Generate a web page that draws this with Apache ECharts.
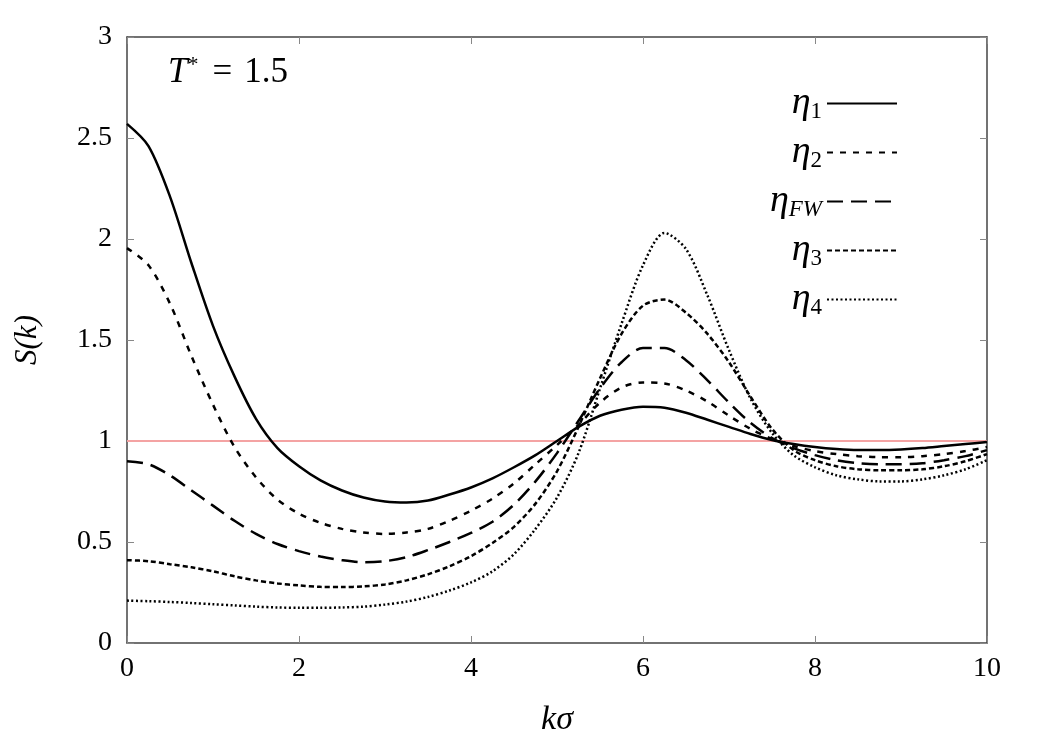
<!DOCTYPE html>
<html>
<head>
<meta charset="utf-8">
<title>S(k)</title>
<script src="https://cdn.jsdelivr.net/npm/echarts@6/dist/echarts.min.js"></script>
<style>
  html, body { margin: 0; padding: 0; background: #fff; }
  #chart { width: 1050px; height: 750px; }
</style>
</head>
<body>
<div id="chart"></div>
<script>
// k sigma sample points (step 0.25)
var kVals = [0, 0.25, 0.5, 0.75, 1, 1.25, 1.5, 1.75, 2, 2.25, 2.5, 2.75, 3, 3.25, 3.5, 3.75, 4, 4.25, 4.5, 4.75,
             5, 5.25, 5.5, 5.75, 6, 6.25, 6.5, 6.75, 7, 7.25, 7.5, 7.75, 8, 8.25, 8.5, 8.75, 9, 9.25, 9.5, 9.75, 10];
// S(k) for each packing fraction
var eta1  = [2.57, 2.46, 2.21, 1.88, 1.57, 1.32, 1.11, 0.965, 0.875, 0.805, 0.755, 0.72, 0.70, 0.695, 0.705, 0.735, 0.77, 0.815, 0.87, 0.93,
             1.0, 1.07, 1.125, 1.155, 1.17, 1.165, 1.14, 1.105, 1.07, 1.035, 1.005, 0.985, 0.97, 0.96, 0.955, 0.955, 0.958, 0.965, 0.975, 0.985, 0.995];
var eta2  = [1.955, 1.87, 1.68, 1.42, 1.18, 0.97, 0.82, 0.71, 0.64, 0.595, 0.565, 0.547, 0.54, 0.547, 0.565, 0.605, 0.655, 0.715, 0.79, 0.885,
             0.98, 1.08, 1.19, 1.265, 1.29, 1.285, 1.25, 1.195, 1.125, 1.06, 1.01, 0.975, 0.95, 0.935, 0.925, 0.92, 0.92, 0.925, 0.935, 0.95, 0.97];
var etaFW = [0.90, 0.885, 0.83, 0.755, 0.68, 0.605, 0.54, 0.49, 0.455, 0.428, 0.41, 0.40, 0.405, 0.425, 0.46, 0.50, 0.545, 0.60, 0.685, 0.80,
             0.94, 1.10, 1.26, 1.39, 1.46, 1.46, 1.40, 1.30, 1.19, 1.09, 1.015, 0.965, 0.93, 0.905, 0.89, 0.885, 0.885, 0.89, 0.905, 0.925, 0.955];
var eta3  = [0.41, 0.405, 0.39, 0.375, 0.355, 0.33, 0.31, 0.295, 0.285, 0.278, 0.277, 0.28, 0.29, 0.31, 0.34, 0.38, 0.43, 0.495, 0.575, 0.69,
             0.85, 1.07, 1.31, 1.53, 1.67, 1.70, 1.635, 1.53, 1.39, 1.22, 1.06, 0.955, 0.905, 0.875, 0.86, 0.855, 0.855, 0.86, 0.875, 0.90, 0.935];
var eta4  = [0.21, 0.207, 0.203, 0.198, 0.192, 0.186, 0.18, 0.176, 0.174, 0.174, 0.176, 0.18, 0.19, 0.205, 0.228, 0.26, 0.30, 0.355, 0.44, 0.565,
             0.72, 0.94, 1.26, 1.58, 1.87, 2.03, 1.95, 1.72, 1.45, 1.21, 1.04, 0.93, 0.87, 0.83, 0.81, 0.80, 0.80, 0.81, 0.83, 0.86, 0.905];
// reference line S = 1
var refK = [0, 10];
var refS = [1, 1];

var seriesNames = ['eta1', 'eta2', 'etaFW', 'eta3', 'eta4'];
var subs = { eta1: '{s|1}', eta2: '{s|2}', etaFW: '{f|FW}', eta3: '{s|3}', eta4: '{s|4}' };

function pairs(xs, ys) {
    var out = [];
    for (var i = 0; i < xs.length; i++) {
        out.push([xs[i], ys[i]]);
    }
    return out;
}

var chart = echarts.init(document.getElementById('chart'));
var serif = 'Liberation Serif';

function curve(name, ys, dash) {
    return {
        name: name,
        type: 'line',
        data: pairs(kVals, ys),
        smooth: 0.3,
        symbol: 'none',
        lineStyle: { color: '#000', width: 2.5, type: dash },
        itemStyle: { color: '#000' },
        z: 3
    };
}

var option = {
    animation: false,
    backgroundColor: '#fff',
    grid: { left: 127, right: 63, top: 37, bottom: 107 },
    legend: {
        data: seriesNames,
        orient: 'vertical',
        right: 147,
        top: 79,
        align: 'right',
        itemWidth: 70,
        itemHeight: 14,
        itemGap: 10,
        itemStyle: { color: 'transparent', opacity: 0, borderWidth: 0 },
        formatter: function (name) {
            return '{e|η}' + subs[name];
        },
        textStyle: {
            fontFamily: serif,
            rich: {
                e: { fontFamily: serif, fontStyle: 'italic', fontSize: 38, lineHeight: 36, color: '#000' },
                s: { fontFamily: serif, fontSize: 23, lineHeight: 36, color: '#000', padding: [16, 0, 0, 0] },
                f: { fontFamily: serif, fontStyle: 'italic', fontSize: 23, lineHeight: 36, color: '#000', padding: [16, 0, 0, 0] }
            }
        }
    },
    graphic: [{
        type: 'text',
        left: 168,
        top: 54,
        style: {
            text: '{i|T}{p|*}{m|=}{n|1.5}',
            rich: {
                i: { fontFamily: serif, fontStyle: 'italic', fontSize: 35, color: '#000' },
                p: { fontFamily: serif, fontSize: 22, color: '#000', padding: [0, 0, 16, 0] },
                m: { fontFamily: serif, fontSize: 35, color: '#000', padding: [0, 12, 0, 14] },
                n: { fontFamily: serif, fontSize: 35, color: '#000' }
            }
        }
    }],
    xAxis: [{
        type: 'value',
        min: 0, max: 10, interval: 2,
        name: 'kσ',
        nameLocation: 'middle',
        nameGap: 60,
        nameTextStyle: { fontFamily: serif, fontStyle: 'italic', fontSize: 34, color: '#000' },
        axisLine: { onZero: false, lineStyle: { color: '#444', width: 1.5 } },
        axisTick: { inside: true, length: 7, lineStyle: { color: '#888' } },
        axisLabel: { fontFamily: serif, fontSize: 28, color: '#000', margin: 12 },
        splitLine: { show: false }
    }, {
        type: 'value',
        position: 'top',
        min: 0, max: 10, interval: 2,
        axisLine: { onZero: false, lineStyle: { color: '#444', width: 1.5 } },
        axisTick: { inside: true, length: 7, lineStyle: { color: '#888' } },
        axisLabel: { show: false },
        splitLine: { show: false }
    }],
    yAxis: [{
        type: 'value',
        min: 0, max: 3, interval: 0.5,
        name: 'S(k)',
        nameLocation: 'middle',
        nameGap: 84,
        nameRotate: 90,
        nameTextStyle: { fontFamily: serif, fontStyle: 'italic', fontSize: 31, color: '#000' },
        axisLine: { show: true, onZero: false, lineStyle: { color: '#444', width: 1.5 } },
        axisTick: { show: true, inside: true, length: 7, lineStyle: { color: '#888' } },
        axisLabel: { fontFamily: serif, fontSize: 28, color: '#000', margin: 15 },
        splitLine: { show: false }
    }, {
        type: 'value',
        position: 'right',
        min: 0, max: 3, interval: 0.5,
        axisLine: { show: true, onZero: false, lineStyle: { color: '#444', width: 1.5 } },
        axisTick: { show: true, inside: true, length: 7, lineStyle: { color: '#888' } },
        axisLabel: { show: false },
        splitLine: { show: false }
    }],
    series: [
        {
            name: 'ref',
            type: 'line',
            data: pairs(refK, refS),
            symbol: 'none',
            lineStyle: { color: '#f4a3a3', width: 2 },
            z: 1
        },
        curve('eta1', eta1, 'solid'),
        curve('eta2', eta2, [6, 7]),
        curve('etaFW', etaFW, [16, 8]),
        curve('eta3', eta3, [5, 3]),
        curve('eta4', eta4, [2, 2.5])
    ]
};

chart.setOption(option);
</script>
</body>
</html>
